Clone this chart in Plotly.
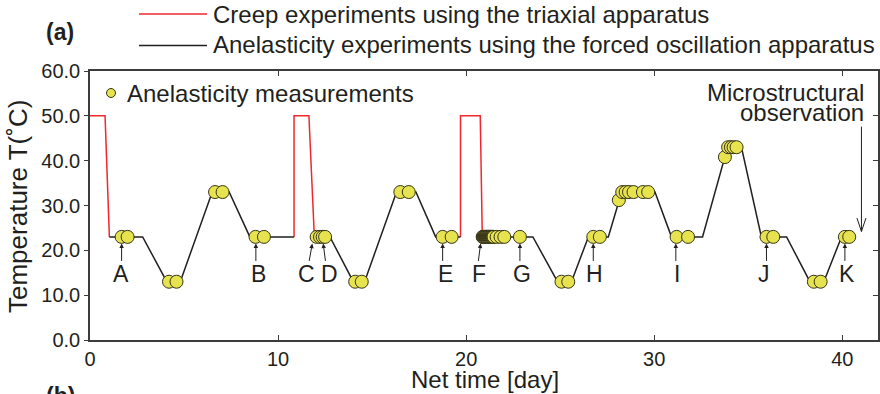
import plotly.graph_objects as go

# ---- temperature history -------------------------------------------------
# creep runs in the triaxial apparatus (None separates the runs)
creep_t = [0.0, 0.8, 1.03, None, 10.85, 10.85, 11.64, 11.93, None, 19.7, 19.7, 20.75, 20.86]
creep_T = [50, 50, 23, None, 23, 50, 50, 23, None, 23, 50, 50, 23]

# anelasticity runs in the forced oscillation apparatus
anel_t = [1.03, 2.8, 4.08, 4.8, 6.5, 7.4, 8.5, 10.85, None,
          11.93, 12.76, 14.0, 14.6, 16.3, 17.33, 18.38, 19.7, None,
          20.86, 23.55, 24.86, 25.6, 26.5, 27.56, 28.27, 30.04, 30.92, 32.57,
          33.9, 34.64, 35.7, 37.04, 38.28, 39.02, 39.96, 40.67]
anel_T = [23, 23, 13, 13, 33, 33, 23, 23, None,
          23, 23, 13, 13, 33, 33, 23, 23, None,
          23, 23, 13, 13, 23, 23, 33, 33, 23, 23,
          43, 43, 23, 23, 13, 13, 23, 23]

# ---- anelasticity measurements ------------------------------------------
meas_t = [1.68, 2.0, 4.2, 4.6, 6.65, 7.05, 8.8, 9.25,
          12.05, 12.23, 12.37, 12.5, 14.1, 14.45, 16.5, 16.95, 18.75, 19.23,
          20.88, 20.9, 20.92, 20.94, 20.96, 20.98, 21.0, 21.02, 21.04, 21.06,
          21.08, 21.1, 21.12, 21.14, 21.16, 21.18, 21.2, 21.22, 21.24, 21.26,
          21.28, 21.3, 21.32, 21.34, 21.36, 21.38, 21.4, 21.43, 21.46,
          21.62, 21.83, 22.03, 22.86, 25.07, 25.43, 26.76, 27.11,
          28.12, 28.3, 28.48, 28.66, 28.9, 29.4, 29.68, 31.19, 31.8,
          33.76, 33.93, 34.08, 34.22, 34.38, 35.97, 36.33, 38.49, 38.85,
          40.14, 40.37]
meas_T = [23, 23, 13, 13, 33, 33, 23, 23,
          23, 23, 23, 23, 13, 13, 33, 33, 23, 23,
          23, 23, 23, 23, 23, 23, 23, 23, 23, 23,
          23, 23, 23, 23, 23, 23, 23, 23, 23, 23,
          23, 23, 23, 23, 23, 23, 23, 23, 23,
          23, 23, 23, 23, 13, 13, 23, 23,
          31.2, 33, 33, 33, 33, 33, 33, 23, 23,
          40.8, 43, 43, 43, 43, 23, 23, 13, 13,
          23, 23]

# ---- labelled measurements: letter, arrow head time, arrow tail time, label time
label_names = ["A", "B", "C", "D", "E", "F", "G", "H", "I", "J", "K"]
label_head_t = [1.68, 8.82, 11.82, 12.40, 18.75, 20.77, 22.86, 26.76, 31.15, 35.97, 40.14]
label_tail_t = [1.68, 8.82, 11.64, 12.53, 18.75, 20.64, 22.86, 26.76, 31.15, 35.97, 40.14]
label_text_t = [1.65, 8.98, 11.52, 12.76, 18.91, 20.68, 22.95, 26.81, 31.19, 35.83, 40.26]

x_ticks = [0, 10, 20, 30, 40]
y_ticks = [0, 10, 20, 30, 40, 50, 60]

RED = "#f0282d"
INK = "#231f20"
AXIS = "#3c3c3c"
FILL = "#e7e34e"
EDGE = "#35331a"
FONT = "Liberation Sans, Arial, sans-serif"
TXT = 24

# plot-area placement in the 880x394 canvas
W, H = 880, 394
L, R, T, B = 90, 2, 71, 54
PW, PH = W - L - R, H - T - B


def px(xp):
    return (xp - L) / PW


def py(yp):
    return (H - B - yp) / PH


fig = go.Figure()
fig.add_trace(go.Scatter(x=creep_t, y=creep_T, mode="lines",
                         name="Creep experiments using the triaxial apparatus",
                         line=dict(color=RED, width=1.5), showlegend=False))
fig.add_trace(go.Scatter(x=anel_t, y=anel_T, mode="lines",
                         name="Anelasticity experiments using the forced oscillation apparatus",
                         line=dict(color=INK, width=1.5), showlegend=False))
fig.add_trace(go.Scatter(x=meas_t, y=meas_T, mode="markers",
                         name="Anelasticity measurements",
                         marker=dict(size=13, color=FILL, line=dict(color=EDGE, width=1)),
                         showlegend=False))
# right-hand frame axis carries inward ticks
fig.add_trace(go.Scatter(x=[], y=[], yaxis="y2", showlegend=False))

ann = []
shapes = []

# letters and arrows pointing at the labelled measurements
for name, th, tt, tx in zip(label_names, label_head_t, label_tail_t, label_text_t):
    ann.append(dict(x=th, y=21.5, ax=tt, ay=17.3, xref="x", yref="y", axref="x", ayref="y",
                    text="", showarrow=True, arrowhead=2, arrowsize=0.9, arrowwidth=1,
                    arrowcolor=INK, standoff=0, startstandoff=0))
    ann.append(dict(x=tx, y=14.8, xref="x", yref="y", text=name, showarrow=False,
                    font=dict(family=FONT, size=23, color=INK),
                    xanchor="center", yanchor="middle"))

# microstructural observation marker
ann.append(dict(x=px(866), y=py(92.5), xref="paper", yref="paper", text="Microstructural",
                showarrow=False, xanchor="right", yanchor="middle",
                font=dict(family=FONT, size=TXT, color=INK)))
ann.append(dict(x=px(866), y=py(112.5), xref="paper", yref="paper", text="observation",
                showarrow=False, xanchor="right", yanchor="middle",
                font=dict(family=FONT, size=TXT, color=INK)))
obs_t = 41.02
shapes.append(dict(type="line", xref="x", yref="y", x0=obs_t, x1=obs_t, y0=47.6, y1=24.2,
                   line=dict(color=INK, width=1)))
shapes.append(dict(type="line", xref="x", yref="y", x0=obs_t - 0.24, x1=obs_t, y0=27.2, y1=24.2,
                   line=dict(color=INK, width=1)))
shapes.append(dict(type="line", xref="x", yref="y", x0=obs_t + 0.24, x1=obs_t, y0=27.2, y1=24.2,
                   line=dict(color=INK, width=1)))

# key above the frame
shapes.append(dict(type="line", xref="paper", yref="paper", x0=px(139), x1=px(207),
                   y0=py(14), y1=py(14), line=dict(color=RED, width=1.5)))
shapes.append(dict(type="line", xref="paper", yref="paper", x0=px(139), x1=px(207),
                   y0=py(45.5), y1=py(45.5), line=dict(color=INK, width=1.5)))
ann.append(dict(x=px(211), y=py(14), xref="paper", yref="paper",
                text="Creep experiments using the triaxial apparatus",
                showarrow=False, xanchor="left", yanchor="middle",
                font=dict(family=FONT, size=TXT, color=INK)))
ann.append(dict(x=px(211), y=py(45), xref="paper", yref="paper",
                text="Anelasticity experiments using the forced oscillation apparatus",
                showarrow=False, xanchor="left", yanchor="middle",
                font=dict(family=FONT, size=TXT, color=INK)))
# key inside the frame
shapes.append(dict(type="circle", xref="paper", yref="paper",
                   x0=px(106.5), x1=px(115.5), y0=py(97.5), y1=py(88.5),
                   fillcolor=FILL, line=dict(color=EDGE, width=1)))
ann.append(dict(x=px(125), y=py(93), xref="paper", yref="paper",
                text="Anelasticity measurements",
                showarrow=False, xanchor="left", yanchor="middle",
                font=dict(family=FONT, size=TXT, color=INK)))

# panel letters
ann.append(dict(x=px(44), y=py(32), xref="paper", yref="paper", text="<b>(a)</b>",
                showarrow=False, xanchor="left", yanchor="middle",
                font=dict(family=FONT, size=23, color=INK)))
ann.append(dict(x=px(44), y=py(381), xref="paper", yref="paper", text="<b>(b)</b>",
                showarrow=False, xanchor="left", yanchor="top",
                font=dict(family=FONT, size=23, color=INK)))

# axis titles
ann.append(dict(x=px(485), y=py(379), xref="paper", yref="paper", text="Net time [day]",
                showarrow=False, xanchor="center", yanchor="middle",
                font=dict(family=FONT, size=TXT, color=INK)))
ann.append(dict(x=px(18), y=py(207), xref="paper", yref="paper", text="Temperature T(˚C)",
                showarrow=False, xanchor="center", yanchor="middle", textangle=-90,
                font=dict(family=FONT, size=26, color=INK)))

fig.update_layout(
    width=W, height=H,
    margin=dict(l=L, r=R, t=T, b=B),
    paper_bgcolor="white", plot_bgcolor="white",
    font=dict(family=FONT, color=INK),
    showlegend=False,
    xaxis=dict(range=[0, 41.9], tickvals=x_ticks, ticktext=[str(v) for v in x_ticks],
               ticks="inside", ticklen=5, tickwidth=1, tickcolor=AXIS,
               showline=True, linecolor=AXIS, linewidth=1.5, mirror="ticks",
               showgrid=False, zeroline=False,
               tickfont=dict(family=FONT, size=20, color=INK)),
    yaxis=dict(range=[0, 60], tickvals=y_ticks, ticktext=[f"{v:.1f}" for v in y_ticks],
               ticks="outside", ticklen=4, tickwidth=1, tickcolor=AXIS,
               showline=True, linecolor=AXIS, linewidth=1.5,
               showgrid=False, zeroline=False,
               tickfont=dict(family=FONT, size=20, color=INK)),
    yaxis2=dict(range=[0, 60], overlaying="y", side="right", tickvals=y_ticks[1:-1],
                ticks="inside", ticklen=5, tickwidth=1, tickcolor=AXIS,
                showticklabels=False, showline=True, linecolor=AXIS, linewidth=1.5,
                showgrid=False, zeroline=False),
    annotations=ann,
    shapes=shapes,
)

fig.write_html("out.html")
